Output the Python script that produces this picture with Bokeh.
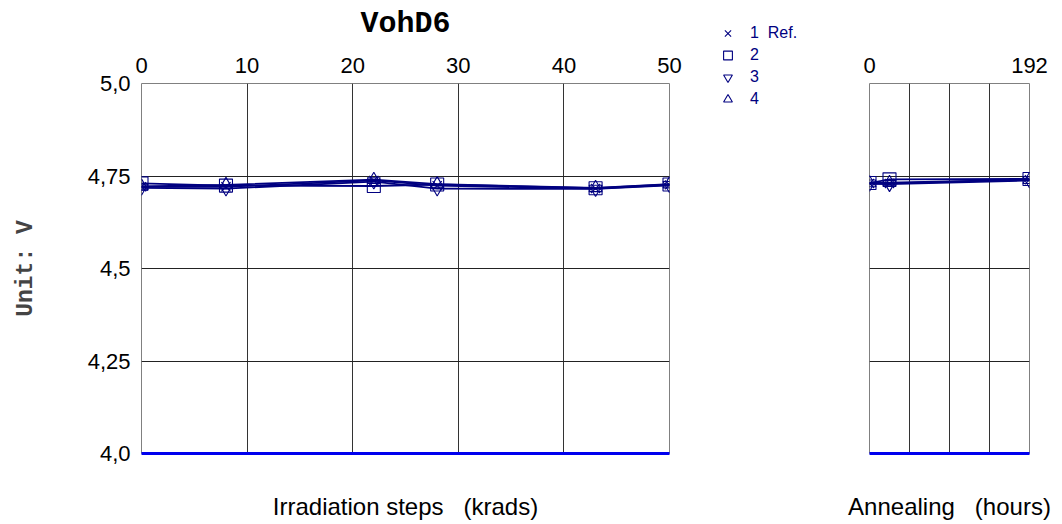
from bokeh.plotting import figure
from bokeh.layouts import row, column
from bokeh.models import (FixedTicker, Range1d, LinearAxis, Legend, LegendItem)
from bokeh.embed import file_html
from bokeh.resources import INLINE

NBSP = "\u00a0"

# ---- data ----
title_text = "VohD6"
unit_label = "Unit: V"
irr_label = "Irradiation steps " + NBSP * 2 + "(krads)"
ann_label = "Annealing " + NBSP * 2 + "(hours)"
series_names = ["1" + NBSP + " Ref.", "2", "3", "4"]
series_markers = ["x", "square", "inverted_triangle", "triangle"]

irr_steps = [0, 8, 22, 28, 43, 50]
irr_s1 = [4.721, 4.721, 4.738, 4.724, 4.716, 4.726]
irr_s2 = [4.730, 4.724, 4.723, 4.727, 4.717, 4.727]
irr_s3 = [4.718, 4.716, 4.735, 4.716, 4.715, 4.725]
irr_s4 = [4.722, 4.726, 4.740, 4.728, 4.718, 4.728]

ann_hours = [0, 24, 192]
ann_s1 = [4.730, 4.730, 4.740]
ann_s2 = [4.731, 4.741, 4.742]
ann_s3 = [4.729, 4.728, 4.738]
ann_s4 = [4.731, 4.732, 4.740]

y_ticks = [4.0, 4.25, 4.5, 4.75, 5.0]
y_tick_labels = ["4,0", "4,25", "4,5", "4,75", "5,0"]
irr_ticks = [0, 10, 20, 30, 40, 50]
ann_ticks = [0, 192]
ann_grid = [48, 96, 144]

NAVY = "#000080"
SANS = "Liberation Sans"
MONO = "Liberation Mono"
TICK_SIZE = "22px"
LABEL_SIZE = "24px"
H = 522


def base_fig(width, xr, bl, br, xlabel, xticks, gridticks):
    p = figure(width=width, height=H, x_range=xr, y_range=Range1d(4.0, 5.0),
               output_backend="svg", toolbar_location=None, x_axis_location="above",
               min_border_left=bl, min_border_right=br, min_border_top=83,
               min_border_bottom=H - 83 - 371)
    p.outline_line_color = "#808080"
    p.background_fill_color = "white"
    p.border_fill_color = "white"
    top = p.xaxis[0]
    top.ticker = FixedTicker(ticks=xticks)
    top.axis_line_color = None
    top.major_tick_line_color = None
    top.minor_tick_line_color = None
    top.major_label_standoff = 5
    top.major_label_text_font = SANS
    top.major_label_text_font_size = TICK_SIZE
    top.major_label_text_color = "black"
    p.xgrid.ticker = FixedTicker(ticks=gridticks)
    p.xgrid.grid_line_color = "#333333"
    p.yaxis.axis_line_color = None
    p.yaxis.major_tick_line_color = None
    p.yaxis.minor_tick_line_color = None
    p.yaxis.ticker = FixedTicker(ticks=y_ticks)
    p.ygrid.ticker = FixedTicker(ticks=y_ticks)
    p.ygrid.grid_line_color = "#222222"
    # blue base line with the axis title below it
    bottom = LinearAxis(ticker=FixedTicker(ticks=[]), axis_line_color="#0000ee",
                        axis_line_width=3, major_tick_line_color=None,
                        minor_tick_line_color=None, major_label_standoff=0,
                        axis_label=xlabel, axis_label_standoff=39,
                        axis_label_text_font=SANS, axis_label_text_font_style="normal",
                        axis_label_text_font_size=LABEL_SIZE,
                        axis_label_text_color="black")
    p.add_layout(bottom, "below")
    return p


# ---- left: irradiation ----
p1 = base_fig(689, Range1d(0, 50), 141, 20, irr_label, irr_ticks, irr_ticks)
p1.yaxis.major_label_overrides = dict(zip(y_ticks, y_tick_labels))
p1.yaxis.major_label_text_font = SANS
p1.yaxis.major_label_text_font_size = TICK_SIZE
p1.yaxis.major_label_text_color = "black"
p1.yaxis.major_label_standoff = 5
p1.yaxis.axis_label = unit_label
p1.yaxis.axis_label_text_font = MONO
p1.yaxis.axis_label_text_font_style = "bold"
p1.yaxis.axis_label_text_font_size = "23px"
p1.yaxis.axis_label_standoff = 46
# chart title as the label of the top axis
top1 = p1.xaxis[0]
top1.axis_label = title_text
top1.axis_label_text_font = MONO
top1.axis_label_text_font_style = "bold"
top1.axis_label_text_font_size = "30px"
top1.axis_label_text_color = "black"
top1.axis_label_standoff = 14

irr_series = [irr_s1, irr_s2, irr_s3, irr_s4]
for ys, mk in zip(irr_series, series_markers):
    p1.line(irr_steps, ys, line_color=NAVY, line_width=1.8)
    p1.scatter(irr_steps, ys, marker=mk, size=13, fill_color=None,
               line_color=NAVY, line_width=1.1)

# ---- legend panel (its ranges hold no data, so only the legend shows) ----
pl = figure(width=151, height=H, output_backend="svg", toolbar_location=None,
            x_axis_type=None, y_axis_type=None, x_range=Range1d(-2, -1),
            y_range=Range1d(-2, -1), min_border=0)
pl.outline_line_color = None
pl.xgrid.visible = False
pl.ygrid.visible = False
items = []
for ys, mk, name in zip(irr_series, series_markers, series_names):
    r = pl.scatter(irr_steps, ys, marker=mk, size=13, fill_color=None,
                   line_color=NAVY, line_width=1.1)
    items.append(LegendItem(label=name, renderers=[r]))
legend = Legend(items=items, location="top_left", border_line_color=None,
                background_fill_alpha=0, padding=0, spacing=0, margin=22,
                glyph_width=33, glyph_height=22, label_height=22,
                label_standoff=6, label_text_font=SANS,
                label_text_font_size="16px", label_text_color=NAVY)
pl.add_layout(legend, "center")

# ---- right: annealing ----
p2 = base_fig(220, Range1d(0, 192), 29, 31, ann_label, ann_ticks, ann_grid)
p2.yaxis.visible = False

for ys, mk in zip([ann_s1, ann_s2, ann_s3, ann_s4], series_markers):
    p2.line(ann_hours, ys, line_color=NAVY, line_width=1.8)
    p2.scatter(ann_hours, ys, marker=mk, size=13, fill_color=None,
               line_color=NAVY, line_width=1.1)

layout = row(p1, column(pl), p2)
open("out.html", "w").write(file_html(layout, INLINE))
